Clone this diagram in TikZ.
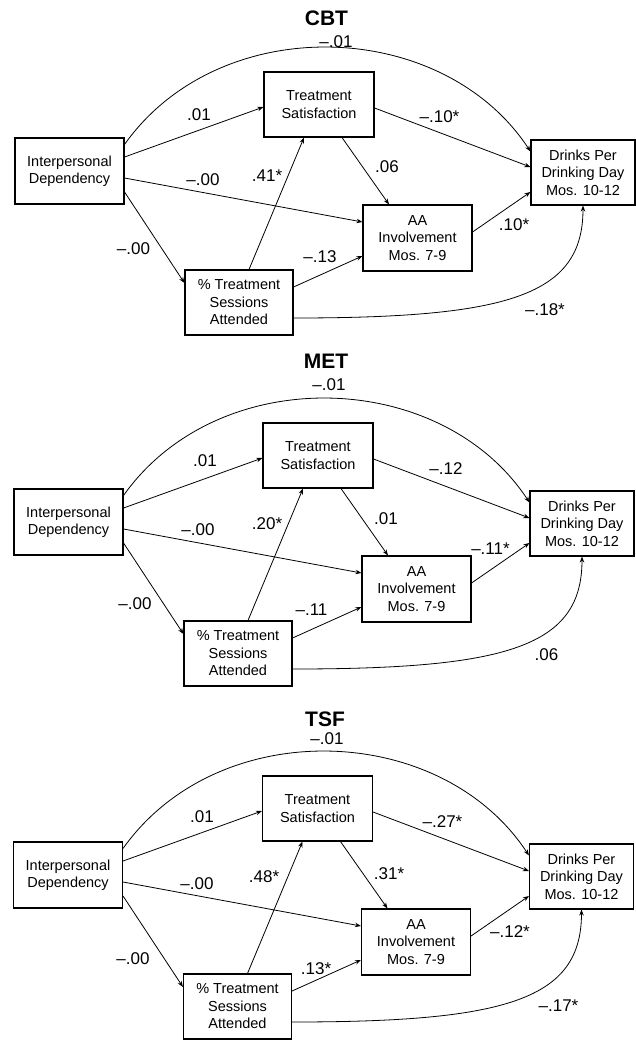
\documentclass[tikz,border=0pt]{standalone}
\usepackage{fontspec}
\setmainfont{Liberation Sans}
\usetikzlibrary{arrows.meta}
\tikzset{
  box/.style={draw, line width=1.1pt, font=\fontsize{14.5}{17.5}\selectfont, align=center, inner sep=0pt},
  conn/.style={line width=0.8pt, -{Stealth[length=6pt,width=4.5pt]}},
  lab/.style={font=\fontsize{17}{20}\selectfont, inner sep=0pt},
  ttl/.style={font=\bfseries\fontsize{21}{24}\selectfont, inner sep=0pt}
}
\newcommand{\drawpanel}[1]{%
  \node[box, minimum width=109pt, minimum height=66pt] (#1id) at (69.5,-171) {Interpersonal\\Dependency};
  \node[box, minimum width=110pt, minimum height=65pt] (#1ts) at (319,-104.5) {Treatment\\Satisfaction};
  \node[box, minimum width=108pt, minimum height=65pt] (#1ps) at (239,-302.5) {\% Treatment\\Sessions\\Attended};
  \node[box, minimum width=109pt, minimum height=66pt] (#1aa) at (417.5,-238) {AA\\Involvement\\Mos. 7-9};
  \node[box, minimum width=104pt, minimum height=65pt] (#1dr) at (583,-172.5) {Drinks Per\\Drinking Day\\Mos. 10-12};
  \draw[conn] ([yshift=-7pt]#1id.north east) .. controls +(95,134) and +(-88,134) .. ([yshift=-12pt]#1dr.north west);
  \draw[conn] ([yshift=14pt]#1id.east) -- ([yshift=-2.5pt]#1ts.west);
  \draw[conn] ([yshift=-7pt]#1id.east) -- ([yshift=16pt]#1aa.west);
  \draw[conn] ([yshift=-21pt]#1id.east) -- ([yshift=19.5pt]#1ps.west);
  \draw[conn] ([xshift=10pt]#1ps.north) -- ([xshift=-15pt]#1ts.south);
  \draw[conn] ([yshift=15.5pt]#1ps.east) -- ([yshift=-18pt]#1aa.west);
  \draw[conn] ([xshift=23pt]#1ts.south) -- ([xshift=-28.5pt]#1aa.north);
  \draw[conn] ([yshift=-3.5pt]#1ts.east) -- ([yshift=5.5pt]#1dr.west);
  \draw[conn] ([yshift=6pt]#1aa.east) -- ([yshift=-19.5pt]#1dr.west);
  \draw[conn] ([yshift=-15.5pt]#1ps.east) .. controls +(215,0) and +(0,-90) .. (#1dr.south);
}
\begin{document}
\begin{tikzpicture}[x=1pt,y=1pt]
\useasboundingbox (0,0) rectangle (636,-1042);
% CBT
\begin{scope}
  \drawpanel{a}
  \node[ttl] (at) at (326.5,-18.5) {CBT};
  \node[lab] (a0) at (336,-41.5) {\textendash.01};
  \node[lab] (a1) at (199,-114.5) {.01};
  \node[lab] (a2) at (203,-180) {\textendash.00};
  \node[lab] (a3) at (267,-176) {.41*};
  \node[lab] (a4) at (133.5,-248.5) {\textendash.00};
  \node[lab] (a5) at (320,-256.5) {\textendash.13};
  \node[lab] (a6) at (387,-166.5) {.06};
  \node[lab] (a7) at (439.5,-116.5) {\textendash.10*};
  \node[lab] (a8) at (514,-225) {.10*};
  \node[lab] (a9) at (545,-310) {\textendash.18*};
\end{scope}
% MET
\begin{scope}[shift={(-1,-351)}]
  \drawpanel{b}
  \node[ttl] (bt) at (327,-10) {MET};
  \node[lab] (b0) at (330,-33.5) {\textendash.01};
  \node[lab] (b1) at (206,-110) {.01};
  \node[lab] (b2) at (199,-178.5) {\textendash.00};
  \node[lab] (b3) at (268,-172.5) {.20*};
  \node[lab] (b4) at (136,-252.5) {\textendash.00};
  \node[lab] (b5) at (312.5,-259) {\textendash.11};
  \node[lab] (b6) at (387,-167.5) {.01};
  \node[lab] (b7) at (447,-117.5) {\textendash.12};
  \node[lab] (b8) at (491.5,-197.5) {\textendash.11*};
  \node[lab] (b9) at (547.5,-304) {.06};
\end{scope}
% TSF
\begin{scope}[shift={(-1.5,-704)}]
  \drawpanel{c}
  \node[ttl] (ct) at (326.5,-15.5) {TSF};
  \node[lab] (c0) at (328.5,-34.5) {\textendash.01};
  \node[lab] (c1) at (203.5,-112.5) {.01};
  \node[lab] (c2) at (198.5,-179.5) {\textendash.00};
  \node[lab] (c3) at (265.5,-172.5) {.48*};
  \node[lab] (c4) at (134.5,-254.5) {\textendash.00};
  \node[lab] (c5) at (317.5,-264.5) {.13*};
  \node[lab] (c6) at (390.5,-169.5) {.31*};
  \node[lab] (c7) at (444,-117.5) {\textendash.27*};
  \node[lab] (c8) at (511.5,-227.5) {\textendash.12*};
  \node[lab] (c9) at (560,-301.5) {\textendash.17*};
\end{scope}
\end{tikzpicture}
\end{document}
